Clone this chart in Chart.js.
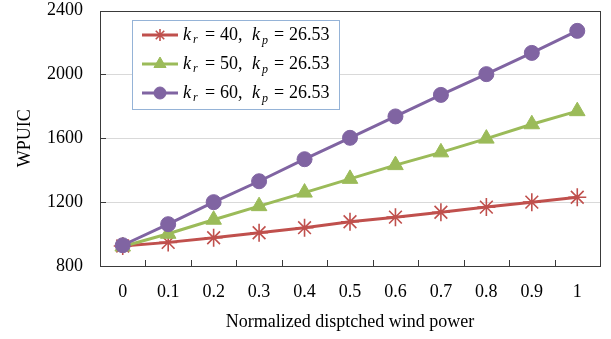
<!DOCTYPE html>
<html><head><meta charset="utf-8">
<script src="https://cdn.jsdelivr.net/npm/chart.js@4.4.0/dist/chart.umd.min.js"></script>
<style>html,body{margin:0;padding:0;background:#fff}#wrap{width:611px;height:339px}</style>
</head><body><div id="wrap"><canvas id="c" width="611" height="339"></canvas></div>
<script>
// ---- data ----
const categories = ['0','0.1','0.2','0.3','0.4','0.5','0.6','0.7','0.8','0.9','1'];
const series40 = [925, 948, 977, 1008, 1040, 1077, 1106, 1137, 1169, 1200, 1231];
const series50 = [922, 1002, 1090, 1175, 1260, 1346, 1432, 1512, 1598, 1688, 1770];
const series60 = [930, 1062, 1200, 1331, 1469, 1603, 1737, 1872, 2002, 2135, 2273];
const krValues = ['40', '50', '60'];
const kpValue = '26.53';
const yMin = 800, yMax = 2400, yStep = 400;
const xTitle = 'Normalized disptched wind power';
const yTitle = 'WPUIC';

const colors = ['#C0504D', '#9BBB59', '#8064A2'];
const pointStyles = ['star', 'triangle', 'circle'];
const legendRadius = [6, 7, 6];
const seriesList = [series40, series50, series60];

const FONT = "'Liberation Serif', 'Times New Roman', serif";

const frameAndTicks = {
  id: 'frameAndTicks',
  beforeDatasetsDraw(chart) {
    const {ctx, chartArea: a, scales} = chart;
    ctx.save();
    ctx.strokeStyle = '#3a3a3a';
    ctx.lineWidth = 1;
    ctx.strokeRect(Math.round(a.left) + 0.5, Math.round(a.top) + 0.5, Math.round(a.right - a.left), Math.round(a.bottom - a.top));
    const ys = scales.y;
    ys.ticks.forEach((t, i) => {
      const py = Math.round(ys.getPixelForTick(i)) + 0.5;
      ctx.beginPath(); ctx.moveTo(a.left, py); ctx.lineTo(a.left + 6, py); ctx.stroke();
    });
    const n = categories.length;
    for (let i = 0; i <= n; i++) {
      const px = Math.round(a.left + (a.right - a.left) * i / n) + 0.5;
      ctx.beginPath(); ctx.moveTo(px, a.bottom); ctx.lineTo(px, a.bottom - 6); ctx.stroke();
    }
    ctx.restore();
  }
};

function drawEq(ctx, x, y, kr) {
  const big = "18px " + FONT, ibig = "italic 18px " + FONT, sub = "italic 12px " + FONT;
  const parts = [
    [ibig, 'k', 0, 0], [sub, 'r', 10, 5], [big, '=', 22, 0], [big, kr + ',', 37, 0],
    [ibig, 'k', 69, 0], [sub, 'p', 79, 6], [big, '=', 91, 0], [big, kpValue, 106, 0]
  ];
  parts.forEach(([f, s, dx, dy]) => {
    ctx.font = f;
    ctx.fillText(s, x + dx, y + dy);
  });
}

const customLegend = {
  id: 'customLegend',
  afterDatasetsDraw(chart) {
    const {ctx} = chart;
    ctx.save();
    const bx = 132.5, by = 20.5, bw = 207, bh = 89;
    ctx.fillStyle = '#ffffff';
    ctx.fillRect(bx, by, bw, bh);
    ctx.strokeStyle = '#95B3D7';
    ctx.lineWidth = 1;
    ctx.strokeRect(bx, by, bw, bh);
    const rows = [35, 64, 93];
    rows.forEach((ry, i) => {
      ctx.strokeStyle = colors[i];
      ctx.lineWidth = 3;
      ctx.beginPath(); ctx.moveTo(142, ry); ctx.lineTo(178, ry); ctx.stroke();
      const ds = chart.data.datasets[i];
      ctx.fillStyle = colors[i];
      ctx.strokeStyle = colors[i];
      ctx.lineWidth = ds.pointBorderWidth;
      Chart.helpers.drawPoint(ctx, {
        pointStyle: pointStyles[i], radius: legendRadius[i], borderWidth: ds.pointBorderWidth, rotation: 0
      }, 160, ry);
      ctx.fillStyle = '#000';
      ctx.textBaseline = 'middle';
      drawEq(ctx, 183, ry, krValues[i]);
    });
    ctx.restore();
  }
};

const datasets = seriesList.map((s, i) => ({
  label: 'k_r = ' + krValues[i] + ', k_p = ' + kpValue,
  data: s,
  borderColor: colors[i],
  backgroundColor: colors[i],
  pointBackgroundColor: colors[i],
  pointBorderColor: colors[i],
  pointStyle: pointStyles[i],
  pointRadius: i === 0 ? 9 : (i === 1 ? 9 : 7.5),
  pointBorderWidth: i === 0 ? 1.6 : 1,
  borderWidth: 3,
  tension: 0,
  order: 2 - i
}));

new Chart(document.getElementById('c'), {
  type: 'line',
  data: {labels: categories, datasets},
  options: {
    responsive: false,
    animation: false,
    devicePixelRatio: 1,
    layout: {padding: {top: 9, right: 11, left: 0, bottom: 0}},
    plugins: {legend: {display: false}, tooltip: {enabled: false}},
    scales: {
      x: {
        type: 'category',
        offset: true,
        grid: {display: false, drawTicks: false, offset: true},
        border: {display: false},
        ticks: {color: '#000', font: {family: FONT, size: 18}, padding: 15, maxRotation: 0, autoSkip: false},
        title: {display: true, text: xTitle, color: '#000', font: {family: FONT, size: 18}, padding: {top: 0, bottom: 6}},
        afterFit(s) { s.height = 73; s.paddingLeft = 0; s.paddingRight = 0; }
      },
      y: {
        min: yMin, max: yMax,
        grid: {
          drawTicks: false,
          color: (c) => (c.tick && (c.tick.value === yMin || c.tick.value === yMax)) ? 'rgba(0,0,0,0)' : '#d9d9d9'
        },
        border: {display: false},
        ticks: {stepSize: yStep, color: '#000', font: {family: FONT, size: 18}, padding: 17, callback: (v) => String(v)},
        title: {display: true, text: yTitle, color: '#000', font: {family: FONT, size: 18}, padding: {top: 14, bottom: 0}},
        afterFit(s) { s.width = 100; s.paddingTop = 0; s.paddingBottom = 0; }
      }
    }
  },
  plugins: [frameAndTicks, customLegend]
});
</script>
</body></html>
